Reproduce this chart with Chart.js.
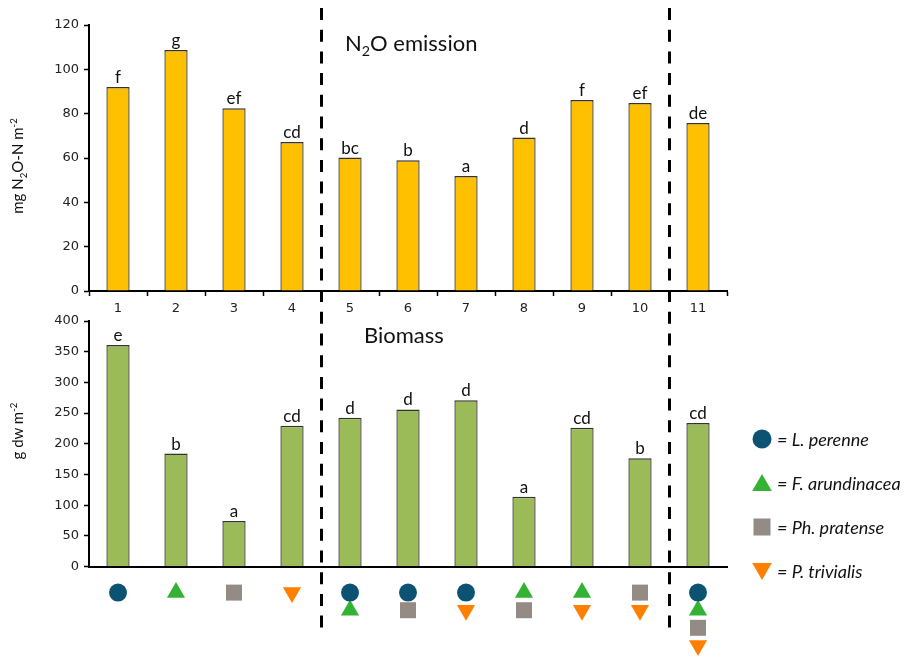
<!DOCTYPE html>
<html>
<head>
<meta charset="utf-8">
<script src="https://cdn.jsdelivr.net/npm/chart.js@4"></script>
<style>
  html,body{margin:0;padding:0;background:#fff;}
  body{width:910px;height:662px;position:relative;overflow:hidden;font-family:Lato,"Open Sans",sans-serif;color:#111;}
  canvas{position:absolute;left:0;top:0;}
  .title{position:absolute;font-size:22px;color:#111;white-space:nowrap;line-height:1;}
  .ytitle{position:absolute;font-size:15px;color:#111;white-space:nowrap;transform:translate(-50%,-50%) rotate(-90deg);line-height:1;}
  sub,sup{font-size:65%;line-height:0;}
  .leg{position:absolute;left:752px;height:24px;display:flex;align-items:center;font-size:18px;font-style:italic;white-space:nowrap;color:#111;}
  .leg svg{margin-right:5px;}
</style>
</head>
<body>
<canvas id="top" width="910" height="662"></canvas>
<canvas id="bottom" width="910" height="662"></canvas>
<canvas id="marks" width="910" height="662"></canvas>

<div class="title" style="left:345px;top:32px;">N<sub>2</sub>O emission</div>
<div class="title" style="left:364px;top:324px;">Biomass</div>
<div class="ytitle" style="left:17px;top:166px;">mg N<sub>2</sub>O-N m<sup>-2</sup></div>
<div class="ytitle" style="left:17px;top:431px;">g dw m<sup>-2</sup></div>

<div class="leg" style="top:427px;"><svg width="20" height="20"><circle cx="10" cy="10" r="9.5" fill="#0C5273"/></svg>= L. perenne</div>
<div class="leg" style="top:471px;"><svg width="20" height="20"><polygon points="10,1 19.8,18 0.2,18" fill="#34B233"/></svg>= F. arundinacea</div>
<div class="leg" style="top:515px;"><svg width="20" height="20"><rect x="1.5" y="1.5" width="17" height="17" fill="#958B85"/></svg>= Ph. pratense</div>
<div class="leg" style="top:559px;"><svg width="20" height="20"><polygon points="0.2,2 19.8,2 10,19" fill="#FF7F00"/></svg>= P. trivialis</div>

<script>
// ---------------- data ----------------
const treatments = ['1','2','3','4','5','6','7','8','9','10','11'];
const n2oValues = [92, 108.7, 82.5, 67.2, 60.2, 59, 51.9, 69.2, 86.2, 84.8, 75.8];
const n2oLetters = ['f','g','ef','cd','bc','b','a','d','f','ef','de'];
const biomassValues = [361, 184, 74, 229.5, 242.5, 256, 271, 113.5, 226, 176.5, 234];
const biomassLetters = ['e','b','a','cd','d','d','d','a','cd','b','cd'];
// row position (1 = first row under the axis) of each species symbol per treatment; null = absent
const lPerenneRow     = [1, null, null, null, 1, 1, 1, null, null, null, 1];
const fArundinaceaRow = [null, 1, null, null, 2, null, null, 1, 1, null, 2];
const phPratenseRow   = [null, null, 1, null, null, 2, null, 2, null, 1, 3];
const pTrivialisRow   = [null, null, null, 1, null, null, 2, null, 2, 2, 4];
const yTicksN2O = {min:0, max:120, step:20};
const yTicksBiomass = {min:0, max:400, step:50};
const groupBreaks = [3.5, 9.5]; // between treatments 4|5 and 10|11

// ---------------- plugins ----------------
const letterPlugin = {
  id: 'letters',
  afterDatasetsDraw(chart, args, opts) {
    const meta = chart.getDatasetMeta(0);
    const ctx = chart.ctx;
    ctx.save();
    ctx.font = '17px Lato, "Open Sans", sans-serif';
    ctx.fillStyle = '#111';
    ctx.textAlign = 'center';
    ctx.textBaseline = 'bottom';
    meta.data.forEach((bar, i) => ctx.fillText(opts.labels[i], bar.x, bar.y - 1));
    ctx.restore();
  }
};
const dividerPlugin = {
  id: 'dividers',
  afterDraw(chart, args, opts) {
    const xs = chart.scales.x;
    const ctx = chart.ctx;
    ctx.save();
    ctx.strokeStyle = '#000';
    ctx.lineWidth = 3;
    ctx.setLineDash([12, 9.7]);
    opts.at.forEach((v, k) => {
      const px = Math.round(xs.getPixelForValue(v)) + 0.5;
      ctx.beginPath();
      ctx.moveTo(px, 8);
      ctx.lineTo(px, opts.ends[k]);
      ctx.stroke();
    });
    ctx.restore();
  }
};

const tickFont = {family: '"DejaVu Sans", Verdana, sans-serif', size: 13};
function yAxis(t) {
  return {
    min: t.min, max: t.max,
    ticks: {stepSize: t.step, color: '#222', font: tickFont, padding: 5},
    grid: {drawOnChartArea: false, drawTicks: true, tickLength: 5, tickColor: '#000', tickWidth: 1.5},
    border: {display: true, color: '#000', width: 2},
    afterFit: s => { s.width = 89; }
  };
}
function barSet(values, color) {
  return {
    data: values,
    backgroundColor: color,
    borderColor: '#333',
    borderWidth: {top: 1.5, left: 1.3, right: 1.3, bottom: 0},
    borderSkipped: false,
    barPercentage: 0.4,
    categoryPercentage: 1
  };
}

// ---------------- top chart ----------------
new Chart(document.getElementById('top'), {
  type: 'bar',
  data: {labels: treatments, datasets: [barSet(n2oValues, '#FFC000')]},
  options: {
    responsive: false, animation: false,
    layout: {padding: {left: 0, right: 183, top: 25, bottom: 341}},
    plugins: {legend: {display: false}, tooltip: {enabled: false}, letters: {labels: n2oLetters}},
    scales: {
      x: {
        offset: true,
        grid: {display: true, offset: true, drawOnChartArea: false, drawTicks: true, tickLength: 5, tickColor: '#000', tickWidth: 1.5},
        border: {display: true, color: '#000', width: 2},
        ticks: {color: '#222', font: {family: '"DejaVu Sans", Verdana, sans-serif', size: 13}, padding: 5},
        afterFit: s => { s.height = 30; }
      },
      y: yAxis(yTicksN2O)
    }
  },
  plugins: [letterPlugin]
});

// ---------------- bottom chart ----------------
new Chart(document.getElementById('bottom'), {
  type: 'bar',
  data: {labels: treatments, datasets: [barSet(biomassValues, '#9BBB59')]},
  options: {
    responsive: false, animation: false,
    layout: {padding: {left: 0, right: 183, top: 321, bottom: 85.5}},
    plugins: {legend: {display: false}, tooltip: {enabled: false}, letters: {labels: biomassLetters}},
    scales: {
      x: {
        offset: true,
        grid: {display: false},
        border: {display: true, color: '#000', width: 2},
        ticks: {display: false},
        afterFit: s => { s.height = 10; }
      },
      y: yAxis(yTicksBiomass)
    }
  },
  plugins: [letterPlugin]
});

// ---------------- species symbols + group dividers ----------------
function sym(data, style, color, radius, rotation) {
  return {
    data: data, showLine: false, pointStyle: style, pointRadius: radius,
    pointRotation: rotation || 0, pointBackgroundColor: color, pointBorderWidth: 0,
    pointBorderColor: color, clip: false
  };
}
new Chart(document.getElementById('marks'), {
  type: 'line',
  data: {
    labels: treatments,
    datasets: [
      sym(lPerenneRow, 'circle', '#0C5273', 9),
      sym(fArundinaceaRow, 'triangle', '#34B233', 10.5),
      sym(phPratenseRow, 'rect', '#958B85', 11.3),
      sym(pTrivialisRow, 'triangle', '#FF7F00', 10.5, 180)
    ]
  },
  options: {
    responsive: false, animation: false,
    layout: {padding: {left: 89, right: 183, top: 575, bottom: 2}},
    plugins: {legend: {display: false}, tooltip: {enabled: false}, dividers: {at: groupBreaks, ends: [632, 634]}},
    scales: {
      x: {display: false, offset: true},
      y: {display: false, min: 0, max: 4.3, reverse: true}
    }
  },
  plugins: [dividerPlugin]
});
</script>
</body>
</html>
